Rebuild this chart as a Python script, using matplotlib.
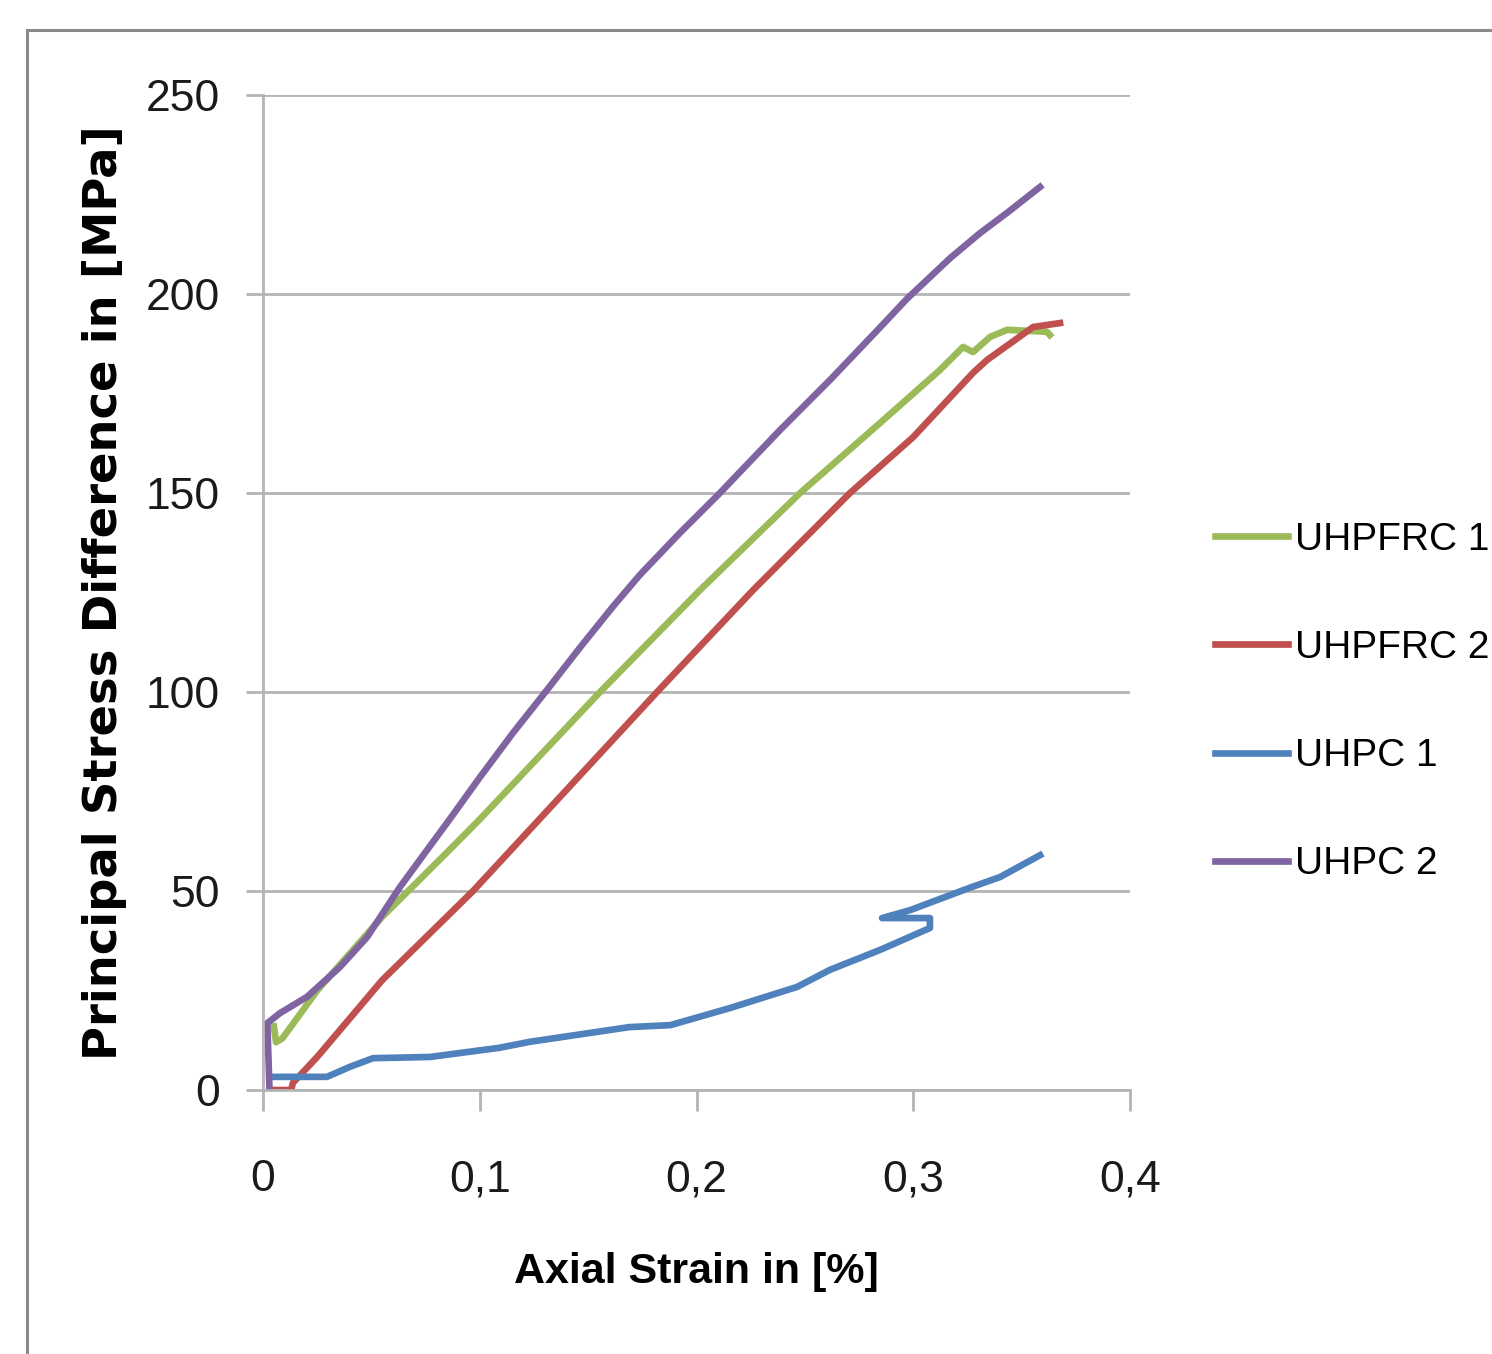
import matplotlib
matplotlib.use("Agg")
import matplotlib.pyplot as plt
from matplotlib.patches import Rectangle
from matplotlib.ticker import FuncFormatter

# strain [%], stress [MPa]
uhpfrc1_x = [0.005, 0.006, 0.009, 0.025, 0.055, 0.086, 0.1, 0.1555, 0.2016, 0.2478, 0.2847, 0.3123, 0.323, 0.3276, 0.3354, 0.3433, 0.3617, 0.363]
uhpfrc1_y = [16, 12, 13, 25, 43.5, 60.3, 68, 100, 125.6, 150, 167.6, 180.9, 186.7, 185.4, 189.2, 191, 190.5, 189.7]

uhpfrc2_x = [0.003, 0.013, 0.0138, 0.025, 0.055, 0.0969, 0.1818, 0.2261, 0.2708, 0.2999, 0.3276, 0.334, 0.3553, 0.3677]
uhpfrc2_y = [0, 0, 1.8, 8.3, 27.6, 50, 100, 125.6, 150, 164, 180.2, 183.4, 191.7, 192.7]

uhpc1_x = [0.003, 0.0295, 0.04, 0.0508, 0.077, 0.109, 0.123, 0.169, 0.188, 0.2155, 0.2464, 0.2616, 0.2847, 0.3077, 0.3077, 0.2856, 0.2986, 0.326, 0.34, 0.3585]
uhpc1_y = [3.3, 3.3, 5.8, 8.0, 8.3, 10.6, 12.1, 15.8, 16.3, 20.6, 25.9, 30.2, 35.2, 40.7, 43.2, 43.2, 45.2, 50.8, 53.5, 59.0]

uhpc2_x = [0.003, 0.002, 0.0078, 0.0203, 0.0355, 0.048, 0.0632, 0.0757, 0.0849, 0.1001, 0.1153, 0.131, 0.1463, 0.1615, 0.174, 0.1924, 0.2108, 0.2385, 0.2616, 0.2833, 0.2971, 0.317, 0.3308, 0.3433, 0.3585]
uhpc2_y = [0, 16.8, 19.3, 23.4, 30.9, 38.4, 51, 60.3, 67.1, 78.6, 89.7, 100.5, 111.2, 121.5, 129.5, 140, 150, 165.8, 178.4, 190.8, 198.8, 209, 215.3, 220.4, 226.9]

x_ticks = [0, 0.1, 0.2, 0.3, 0.4]
y_ticks = [0, 50, 100, 150, 200, 250]

sans = ["Liberation Sans", "DejaVu Sans"]
grey = "#b4b4b4"

fig = plt.figure(figsize=(14.92, 13.54), dpi=100)
fig.patches.append(Rectangle((27 / 1492, -0.1), 1.2, (1354 - 30) / 1354 + 0.1,
                             transform=fig.transFigure, fill=False,
                             edgecolor="#8a8a8a", linewidth=2.2))

ax = fig.add_axes([263 / 1492, 264 / 1354, 867 / 1492, 995 / 1354])
ax.plot(uhpfrc1_x, uhpfrc1_y, color="#9bbb59", lw=4.8, label="UHPFRC 1")
ax.plot(uhpfrc2_x, uhpfrc2_y, color="#c0504d", lw=4.8, label="UHPFRC 2")
ax.plot(uhpc1_x, uhpc1_y, color="#4f81bd", lw=4.8, label="UHPC 1")
ax.plot(uhpc2_x, uhpc2_y, color="#8064a2", lw=4.8, label="UHPC 2")

ax.set_xlim(0, 0.4)
ax.set_ylim(0, 250)
ax.set_xticks(x_ticks)
ax.set_yticks(y_ticks)
ax.xaxis.set_major_formatter(FuncFormatter(lambda v, p: f"{v:g}".replace(".", ",")))
ax.grid(axis="y", color=grey, lw=2)
ax.set_axisbelow(True)
for s in ["top", "right"]:
    ax.spines[s].set_visible(False)
for s in ["left", "bottom"]:
    ax.spines[s].set_color(grey)
    ax.spines[s].set_linewidth(2)
ax.tick_params(axis="x", length=15, width=2, color=grey, pad=35)
ax.tick_params(axis="y", length=12, width=2, color=grey, pad=19)
for lab in ax.get_xticklabels() + ax.get_yticklabels():
    lab.set_family(sans)
    lab.set_fontsize(32)
    lab.set_color("#1a1a1a")

fig.text(696 / 1492, 1 - 1272 / 1354, "Axial Strain in [%]", family=sans,
         fontweight="bold", fontsize=31, ha="center", va="center")
fig.text(105 / 1492, 1 - 593 / 1354, "Principal Stress Difference in [MPa]",
         family="DejaVu Sans", fontweight="bold", fontsize=33.5, rotation=90,
         ha="center", va="center")

leg = fig.legend(loc="center left", bbox_to_anchor=(1215 / 1492, 1 - 702 / 1354),
                 frameon=False, prop={"family": sans, "size": 28},
                 handlelength=1.88, handletextpad=0.18, labelspacing=1.86,
                 borderaxespad=0, borderpad=0)

plt.savefig("out.png", dpi=100)
